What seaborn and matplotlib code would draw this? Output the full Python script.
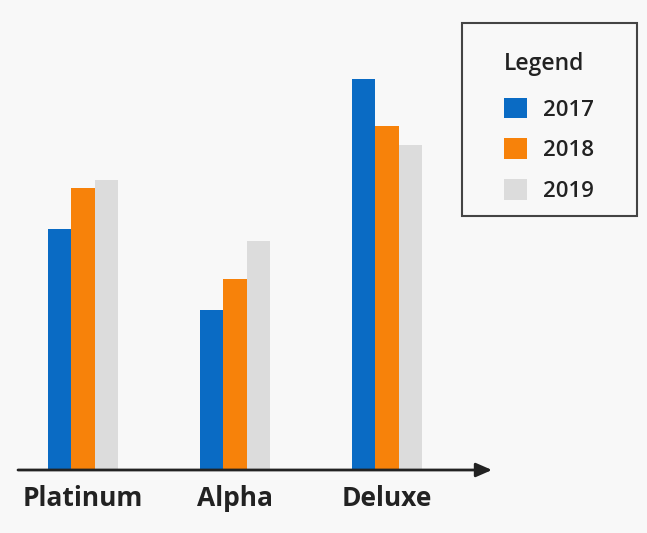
import matplotlib
matplotlib.use("Agg")
import matplotlib.pyplot as plt
from matplotlib.patches import Rectangle
import seaborn as sns
import pandas as pd

categories = ["Platinum", "Alpha", "Deluxe"]
years = ["2017", "2018", "2019"]
values_2017 = [241, 160, 391]
values_2018 = [282, 191, 344]
values_2019 = [290, 229, 325]

colors = ["#0a6bc4", "#f7820a", "#dcdcdc"]
bg = "#f8f8f8"
ink = "#222222"

rows = []
for yr, vals in zip(years, [values_2017, values_2018, values_2019]):
    for c, v in zip(categories, vals):
        rows.append({"Product": c, "Year": yr, "Value": v})
df = pd.DataFrame(rows)

sns.set_theme(style="white")
plt.rcParams["font.family"] = ["Open Sans", "DejaVu Sans"]

W, H = 647, 533
fig = plt.figure(figsize=(W / 100, H / 100), dpi=100, facecolor=bg)
ax = fig.add_axes([18 / W, 63 / H, (492 - 18) / W, (470 - 20) / H])
ax.set_facecolor(bg)

sns.barplot(data=df, x="Product", y="Value", hue="Year", order=categories,
            hue_order=years, palette=colors, width=0.46, saturation=1,
            edgecolor="none", linewidth=0, ax=ax)

ax.set_xlim(-0.428, 2.69)
ax.set_ylim(0, 450)
for s in ax.spines.values():
    s.set_visible(False)
ax.set_yticks([])
ax.set_xlabel("")
ax.set_ylabel("")
ax.tick_params(axis="x", length=0, pad=11, labelsize=19)
for lab in ax.get_xticklabels():
    lab.set_fontweight("bold")
    lab.set_color(ink)

ax.annotate("", xy=(1.0, 0), xytext=(0, 0), xycoords="axes fraction",
            textcoords="axes fraction",
            arrowprops=dict(arrowstyle="-|>,head_length=0.8,head_width=0.35",
                            color=ink, lw=2, shrinkA=0, shrinkB=0))

leg = ax.get_legend()
if leg is not None:
    leg.remove()
handles, labels = ax.get_legend_handles_labels()

# legend frame
fig.patches.append(Rectangle((462 / W, 1 - 216 / H), (637 - 462) / W, (216 - 23) / H,
                             transform=fig.transFigure, facecolor=bg,
                             edgecolor="#444444", linewidth=1.5, zorder=0))

lg = fig.legend(handles, labels, title="Legend", loc="upper left",
                bbox_to_anchor=(504 / W, 1 - 52 / H), frameon=False,
                prop={"size": 16, "weight": "semibold"},
                title_fontproperties={"size": 16.5, "weight": "semibold"},
                handlelength=1.05, handleheight=1.05, handletextpad=0.7,
                labelspacing=0.8, borderpad=0, borderaxespad=0)
lg._legend_box.align = "left"
lg._legend_box.sep = 15.7
lg.get_title().set_color(ink)
for t in lg.get_texts():
    t.set_color(ink)

fig.savefig("out.png", dpi=100, facecolor=bg)
